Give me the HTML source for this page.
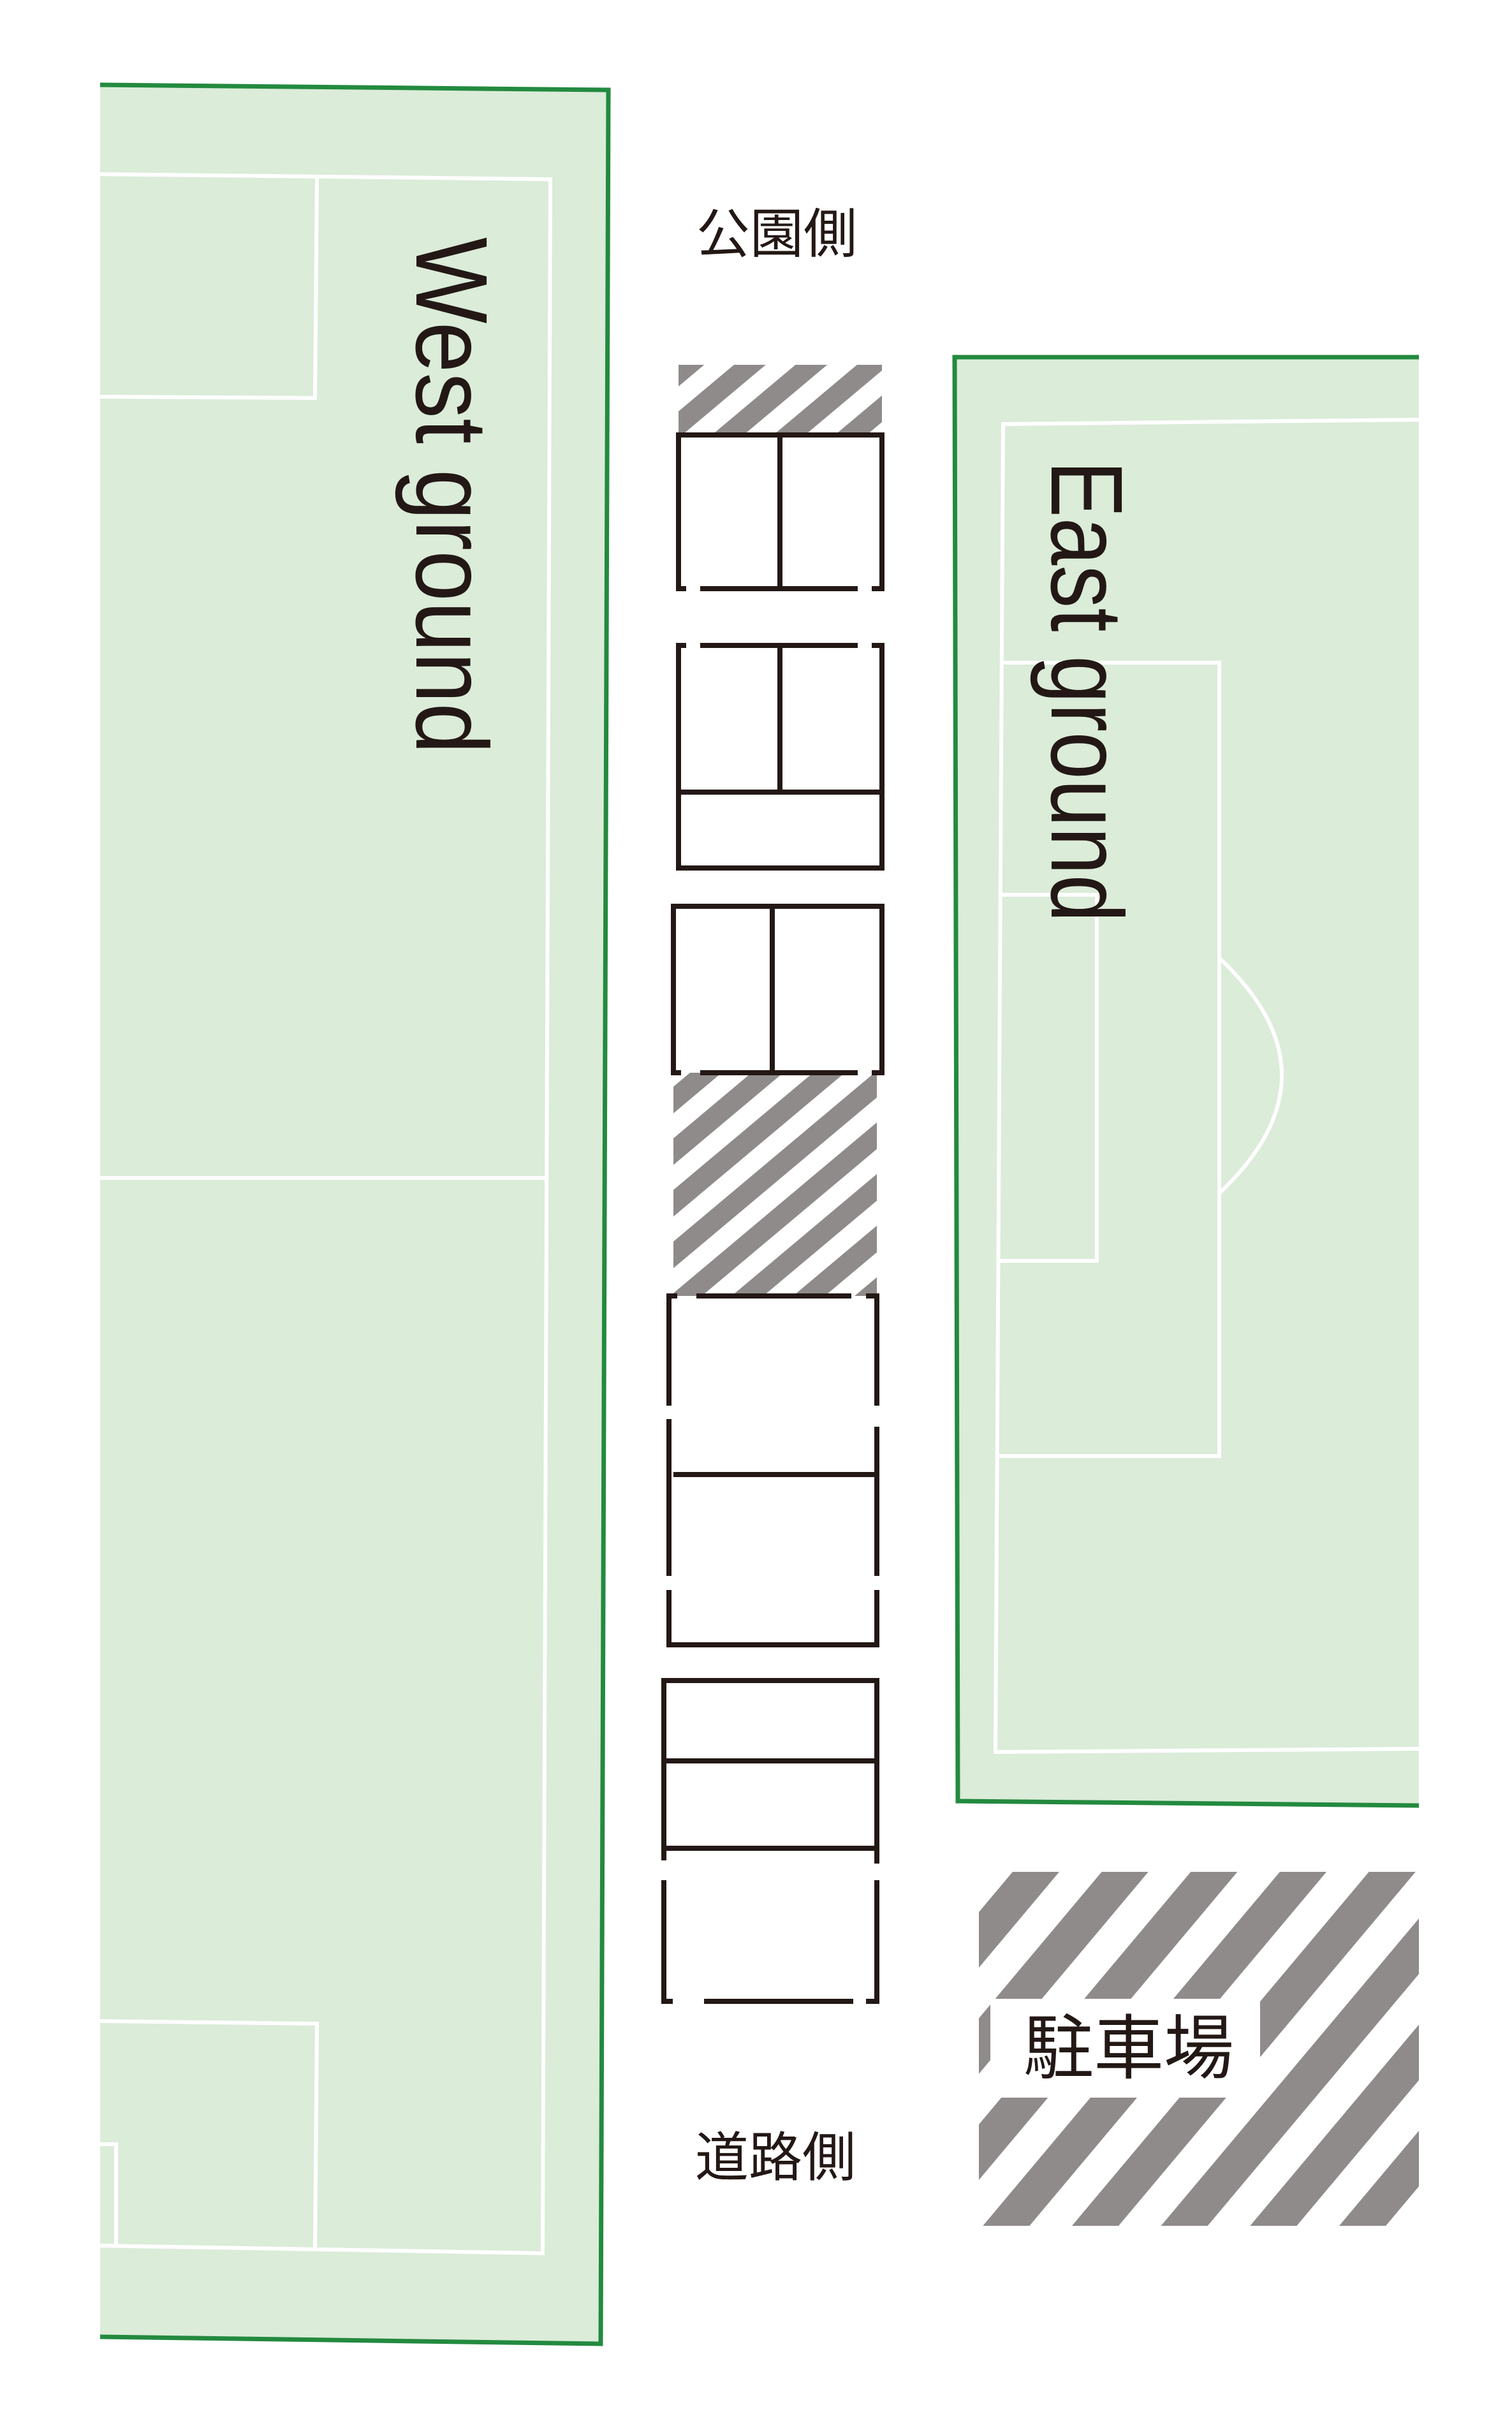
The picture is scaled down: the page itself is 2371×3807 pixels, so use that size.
<!DOCTYPE html>
<html><head><meta charset="utf-8"><style>
html,body{margin:0;padding:0;background:#fff;}
svg{display:block;}
</style></head><body>
<svg width="2371" height="3807" viewBox="0 0 2371 3807" xmlns="http://www.w3.org/2000/svg">
<defs>
<pattern id="h1" patternUnits="userSpaceOnUse" width="62" height="62" patternTransform="rotate(50)">
<rect x="0" y="0" width="32" height="62" fill="#8f8b8a"/>
</pattern>
<pattern id="h2" patternUnits="userSpaceOnUse" width="107" height="107" patternTransform="rotate(40)">
<rect x="0" y="0" width="56" height="107" fill="#8f8b8a"/>
</pattern>
</defs>
<rect width="2371" height="3807" fill="#fff"/>

<!-- West ground -->
<polygon points="157,133 954,141 942,3675 157,3664" fill="#dbecd9"/>
<polyline points="157,133 954,141 942,3675 157,3664" fill="none" stroke="#238a3f" stroke-width="7"/>
<g stroke="#fff" stroke-width="6" fill="none">
<polyline points="157,273 863,281 851,3533 157,3521"/>
<polyline points="497,279 494,624 157,622"/>
<line x1="157" y1="1847" x2="859" y2="1847"/>
<polyline points="157,3169 497,3173 494,3525"/>
<polyline points="157,3362 182,3362 182,3522"/>
</g>
<text transform="translate(653,372) rotate(90)" font-family="Liberation Sans, sans-serif" font-size="160" fill="#231815" textLength="810" lengthAdjust="spacingAndGlyphs">West ground</text>

<!-- East ground -->
<polygon points="1497,560 2225,558 2225,2831 1502,2824" fill="#dbecd9"/>
<polyline points="2225,560 1497,560 1502,2824 2225,2831" fill="none" stroke="#238a3f" stroke-width="7"/>
<g stroke="#fff" stroke-width="6" fill="none">
<polyline points="2225,658 1573,665 1561,2747 2225,2742"/>
<polyline points="1573,1039 1912,1039 1912,2283 1566,2283"/>
<polyline points="1570,1403 1720,1403 1720,1977 1566,1977"/>
<path d="M1912 1502 Q2108 1686 1912 1871"/>
</g>
<text transform="translate(1649,722) rotate(90)" font-family="Liberation Sans, sans-serif" font-size="160" fill="#231815" textLength="724" lengthAdjust="spacingAndGlyphs">East ground</text>

<!-- hatches -->
<rect x="1064" y="572" width="319" height="110" fill="url(#h1)"/>
<rect x="1056" y="1682" width="319" height="350" fill="url(#h1)"/>
<rect x="1535" y="2935" width="690" height="555" fill="url(#h2)"/>
<rect x="1553" y="3134" width="423" height="155" fill="#fff"/>

<!-- parking boxes -->
<g stroke="#231815" stroke-width="8" fill="none">
<line x1="1060" y1="682" x2="1387" y2="682"/>
<line x1="1064" y1="682" x2="1064" y2="927"/>
<line x1="1383" y1="682" x2="1383" y2="927"/>
<line x1="1223" y1="682" x2="1223" y2="923"/>
<line x1="1060" y1="923" x2="1076" y2="923"/><line x1="1098" y1="923" x2="1345" y2="923"/><line x1="1367" y1="923" x2="1387" y2="923"/>
<line x1="1060" y1="1012" x2="1076" y2="1012"/><line x1="1098" y1="1012" x2="1345" y2="1012"/><line x1="1367" y1="1012" x2="1387" y2="1012"/>
<line x1="1064" y1="1008" x2="1064" y2="1365"/>
<line x1="1383" y1="1008" x2="1383" y2="1365"/>
<line x1="1223" y1="1012" x2="1223" y2="1242"/>
<line x1="1064" y1="1242" x2="1383" y2="1242"/>
<line x1="1060" y1="1361" x2="1387" y2="1361"/>
<line x1="1052" y1="1421" x2="1387" y2="1421"/>
<line x1="1056" y1="1421" x2="1056" y2="1686"/>
<line x1="1383" y1="1421" x2="1383" y2="1686"/>
<line x1="1211" y1="1421" x2="1211" y2="1682"/>
<line x1="1052" y1="1682" x2="1068" y2="1682"/><line x1="1098" y1="1682" x2="1345" y2="1682"/><line x1="1367" y1="1682" x2="1387" y2="1682"/>
<line x1="1045" y1="2032" x2="1062" y2="2032"/><line x1="1092" y1="2032" x2="1335" y2="2032"/><line x1="1358" y1="2032" x2="1379" y2="2032"/>
<line x1="1049" y1="2028" x2="1049" y2="2204"/><line x1="1049" y1="2225" x2="1049" y2="2471"/><line x1="1049" y1="2493" x2="1049" y2="2583"/>
<line x1="1375" y1="2028" x2="1375" y2="2204"/><line x1="1375" y1="2237" x2="1375" y2="2471"/><line x1="1375" y1="2493" x2="1375" y2="2583"/>
<line x1="1056" y1="2312" x2="1375" y2="2312"/>
<line x1="1045" y1="2579" x2="1379" y2="2579"/>
<line x1="1037" y1="2635" x2="1379" y2="2635"/>
<line x1="1041" y1="2761" x2="1375" y2="2761"/>
<line x1="1041" y1="2898" x2="1375" y2="2898"/>
<line x1="1041" y1="2635" x2="1041" y2="2917"/><line x1="1041" y1="2948" x2="1041" y2="3142"/>
<line x1="1375" y1="2635" x2="1375" y2="2922"/><line x1="1375" y1="2948" x2="1375" y2="3142"/>
<line x1="1037" y1="3138" x2="1055" y2="3138"/><line x1="1104" y1="3138" x2="1338" y2="3138"/><line x1="1358" y1="3138" x2="1379" y2="3138"/>
</g>

<text x="1218" y="396" text-anchor="middle" font-family="Liberation Sans, Noto Sans CJK JP, sans-serif" font-size="84" fill="#231815">公園側</text>
<text x="1216" y="3412" text-anchor="middle" font-family="Liberation Sans, Noto Sans CJK JP, sans-serif" font-size="84" fill="#231815">道路側</text>
<text x="1770" y="3250" text-anchor="middle" font-family="Liberation Sans, Noto Sans CJK JP, sans-serif" font-size="110" fill="#231815">駐車場</text>
</svg>
</body></html>
